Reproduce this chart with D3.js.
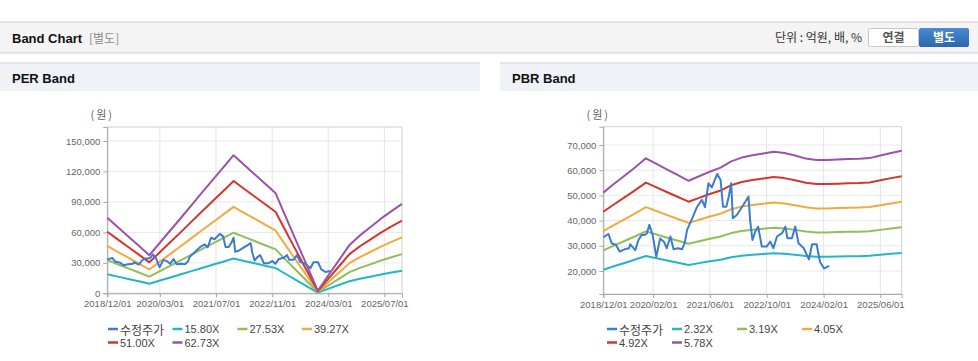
<!DOCTYPE html>
<html><head><meta charset="utf-8">
<script src="https://cdn.jsdelivr.net/npm/d3@7"></script>
<style>
html,body{margin:0;padding:0;background:#fff;}
svg{display:block;}
</style></head>
<body><svg id="c" width="978" height="361"></svg>
<script>
// ---- data ----
const bandDates = ["2018-12-01","2019-03-01","2019-06-01","2019-09-01","2019-12-01","2020-03-01","2020-06-01","2020-09-01","2020-12-01","2021-03-01","2021-06-01","2021-09-01","2021-12-01","2022-03-01","2022-06-01","2022-09-01","2022-12-01","2023-03-01","2023-06-01","2023-09-01","2023-12-01","2024-03-01","2024-06-01","2024-09-01","2024-12-01","2025-03-01","2025-06-01","2025-09-01","2025-12-01"];
const perEps = [1188,1041,893,746,598,794,990,1186,1384,1580,1776,1972,2168,2018,1870,1720,1570,1188,805,422,40,279,518,757,909,1036,1172,1291,1403];
const perMultiples = [15.80,27.53,39.27,51.00,62.73];
const perLabels = ["15.80X","27.53X","39.27X","51.00X","62.73X"];
const pbrBps = [8841,9429,10000,10588,11194,10813,10415,10035,9654,9965,10277,10554,10986,11246,11401,11522,11644,11557,11384,11176,11073,11073,11107,11142,11159,11211,11384,11557,11713];
const pbrMultiples = [2.32,3.19,4.05,4.92,5.78];
const pbrLabels = ["2.32X","3.19X","4.05X","4.92X","5.78X"];
const priceDates = ["2018-12-01","2019-01-15","2019-02-10","2019-03-20","2019-04-20","2019-06-01","2019-07-10","2019-07-20","2019-09-01","2019-09-28","2019-10-25","2019-11-20","2019-12-10","2019-12-31","2020-01-28","2020-02-28","2020-04-01","2020-05-05","2020-05-28","2020-06-28","2020-07-25","2020-09-01","2020-10-05","2020-10-28","2020-11-18","2021-01-01","2021-02-12","2021-03-25","2021-04-20","2021-05-20","2021-06-18","2021-08-03","2021-09-01","2021-09-22","2021-10-20","2021-11-10","2021-12-01","2021-12-15","2022-01-18","2022-02-15","2022-04-01","2022-04-28","2022-05-12","2022-06-01","2022-06-25","2022-07-20","2022-08-20","2022-10-01","2022-11-01","2022-11-28","2022-12-28","2023-02-10","2023-03-10","2023-03-28","2023-05-05","2023-06-03","2023-07-01","2023-08-15","2023-09-28","2023-10-25","2023-12-03","2024-01-01","2024-02-05","2024-03-20"];
const priceValues = [33400,34700,31000,30300,27700,28600,29000,30600,28300,32300,34300,34300,35000,38300,34300,25600,32900,31500,29000,33700,28600,29000,28600,31000,36300,40900,45500,48200,45300,54800,53200,58500,56100,45500,45500,49500,54800,40900,42200,44200,47500,49500,40200,32300,35600,37600,29700,29700,31700,29000,33700,35000,37600,33000,33000,37600,31000,29000,24600,30600,30600,23600,21000,22000];
const perXTicks = ["2018/12/01","2020/03/01","2021/07/01","2022/11/01","2024/03/01","2025/07/01"];
const pbrXTicks = ["2018/12/01","2020/02/01","2021/06/01","2022/10/01","2024/02/01","2025/06/01"];
const perYTicks = [0,30000,60000,90000,120000,150000];
const pbrYTicks = [20000,30000,40000,50000,60000,70000];
const priceLabel = "수정주가";
const colors = ["#3a7bd5","#22b6c8","#8fbf55","#f3aa3c","#d5352c","#9b52a8"];

// ---- layout ----
const svg = d3.select("#c");
const parse = d3.timeParse("%Y-%m-%d");
const parseTick = d3.timeParse("%Y/%m/%d");
const fmt = d3.format(",");

const defs = svg.append("defs");
const sh = defs.append("linearGradient").attr("id","sh").attr("x1",0).attr("x2",0).attr("y1",0).attr("y2",1);
sh.append("stop").attr("offset","0").attr("stop-color","#d0d0d0");
sh.append("stop").attr("offset","1").attr("stop-color","#ffffff").attr("stop-opacity",0);
const bg = defs.append("linearGradient").attr("id","bl").attr("x1",0).attr("x2",0).attr("y1",0).attr("y2",1);
bg.append("stop").attr("offset","0").attr("stop-color","#4a8ad0");
bg.append("stop").attr("offset","1").attr("stop-color","#2a67ad");

svg.append("rect").attr("x",0).attr("y",21).attr("width",978).attr("height",2).attr("fill","#e2e2e2");
svg.append("rect").attr("x",0).attr("y",23).attr("width",978).attr("height",29).attr("fill","#f4f4f4");
svg.append("rect").attr("x",0).attr("y",52).attr("width",978).attr("height",4).attr("fill","url(#sh)");
svg.append("text").attr("x",12).attr("y",43).attr("font-family","Liberation Sans, Arial, sans-serif")
  .attr("font-weight","bold").attr("font-size",13).attr("fill","#111").text("Band Chart");
svg.append("text").attr("x",89).attr("y",43).attr("font-family","'Noto Sans CJK KR', sans-serif")
  .attr("font-size",12).attr("fill","#8a8a8a").text("[별도]");
svg.append("text").attr("x",862).attr("y",42).attr("text-anchor","end").attr("font-family","'Noto Sans CJK KR', sans-serif")
  .attr("font-size",12).attr("fill","#333").text("단위 : 억원, 배, %");
svg.append("rect").attr("x",868.5).attr("y",28.5).attr("width",50).attr("height",18).attr("rx",2)
  .attr("fill","#fff").attr("stroke","#c8c8c8");
svg.append("text").attr("x",893.5).attr("y",42).attr("text-anchor","middle").attr("font-family","'Noto Sans CJK KR', sans-serif")
  .attr("font-size",12).attr("font-weight","bold").attr("fill","#555").text("연결");
svg.append("rect").attr("x",919).attr("y",28).attr("width",50).attr("height",19).attr("rx",2).attr("fill","url(#bl)");
svg.append("text").attr("x",944).attr("y",42).attr("text-anchor","middle").attr("font-family","'Noto Sans CJK KR', sans-serif")
  .attr("font-size",12).attr("font-weight","bold").attr("fill","#fff").text("별도");

function panelHeader(x0, w, title) {
  svg.append("rect").attr("x",x0).attr("y",62).attr("width",w).attr("height",2).attr("fill","#e3e6eb");
  svg.append("rect").attr("x",x0).attr("y",64).attr("width",w).attr("height",27).attr("fill","#eff2f6");
  svg.append("text").attr("x",x0+12).attr("y",83).attr("font-family","Liberation Sans, Arial, sans-serif")
    .attr("font-weight","bold").attr("font-size",13).attr("fill","#111").text(title);
}
panelHeader(0,480,"PER Band");
panelHeader(500,478,"PBR Band");

function drawChart(cfg) {
  const x = d3.scaleTime().domain([parse(bandDates[0]), parse(bandDates[bandDates.length-1])]).range([cfg.left, cfg.right]);
  const y = d3.scaleLinear().domain(cfg.yDomain).range([cfg.bottom, cfg.top]);
  const g = svg.append("g");
  cfg.xTicks.forEach(t => {
    g.append("line").attr("x1",x(parseTick(t))).attr("x2",x(parseTick(t))).attr("y1",cfg.top).attr("y2",cfg.bottom)
      .attr("stroke","#e4e4e4");
  });
  cfg.yTicks.forEach(t => {
    g.append("line").attr("x1",cfg.left).attr("x2",cfg.right).attr("y1",y(t)).attr("y2",y(t)).attr("stroke","#e8e8e8");
  });
  g.append("rect").attr("x",cfg.left).attr("y",cfg.top).attr("width",cfg.right-cfg.left).attr("height",cfg.bottom-cfg.top)
    .attr("fill","none").attr("stroke","#d0d0d0");
  const xa = g.append("g").attr("transform",`translate(0,${cfg.bottom})`)
    .call(d3.axisBottom(x).tickValues(cfg.xTicks.map(parseTick)).tickFormat(d3.timeFormat("%Y/%m/%d")).tickSize(4).tickPadding(3));
  const ya = g.append("g").attr("transform",`translate(${cfg.left},0)`)
    .call(d3.axisLeft(y).tickValues(cfg.yTicks).tickFormat(fmt).tickSize(4).tickPadding(3));
  [xa,ya].forEach(a => {
    a.select(".domain").attr("stroke","#a8a8a8");
    a.selectAll(".tick line").attr("stroke","#a8a8a8");
    a.selectAll("text").attr("fill","#666").attr("font-size",9.5).attr("font-family","Liberation Sans, Arial, sans-serif");
  });
  g.append("text").attr("x",cfg.left-5).attr("y",119).attr("text-anchor","middle").attr("fill","#666")
    .attr("font-size",11).attr("letter-spacing",2).attr("font-family","'Noto Sans CJK KR', sans-serif").text("(원)");
  const line = d3.line().x(d => x(d[0])).y(d => y(d[1]));
  cfg.multiples.forEach((m,i) => {
    const pts = bandDates.map((d,k) => [parse(d), cfg.base[k]*m]);
    g.append("path").attr("d",line(pts)).attr("fill","none").attr("stroke",colors[i+1]).attr("stroke-width",2)
      .attr("stroke-linejoin","round");
  });
  const ppts = priceDates.map((d,k) => [parse(d), priceValues[k]]);
  g.append("path").attr("d",line(ppts)).attr("fill","none").attr("stroke",colors[0]).attr("stroke-width",2)
    .attr("stroke-linejoin","round");
  const items = [priceLabel].concat(cfg.labels);
  items.forEach((lab,i) => {
    const col = i < 4 ? i : i-4;
    const row = i < 4 ? 0 : 1;
    const px = cfg.legendX[col], py = row===0 ? 329 : 342.5;
    g.append("line").attr("x1",px).attr("x2",px+10).attr("y1",py).attr("y2",py).attr("stroke",colors[i]).attr("stroke-width",2.5);
    g.append("text").attr("x",px+12).attr("y",py).attr("dominant-baseline","central").attr("fill","#444")
      .attr("font-size",i===0?12:11).attr("font-family",i===0?"'Noto Sans CJK KR', sans-serif":"Liberation Sans, Arial, sans-serif")
      .text(lab);
  });
}

drawChart({left:107.3,right:402,top:127,bottom:293.3,yDomain:[0,163800],xTicks:perXTicks,yTicks:perYTicks,
  multiples:perMultiples,base:perEps,labels:perLabels,legendX:[108,172.5,237.5,302]});
drawChart({left:603.3,right:901.7,top:126.7,bottom:294,yDomain:[10870,77260],xTicks:pbrXTicks,yTicks:pbrYTicks,
  multiples:pbrMultiples,base:pbrBps,labels:pbrLabels,legendX:[607,672,737,802]});
</script></body></html>
